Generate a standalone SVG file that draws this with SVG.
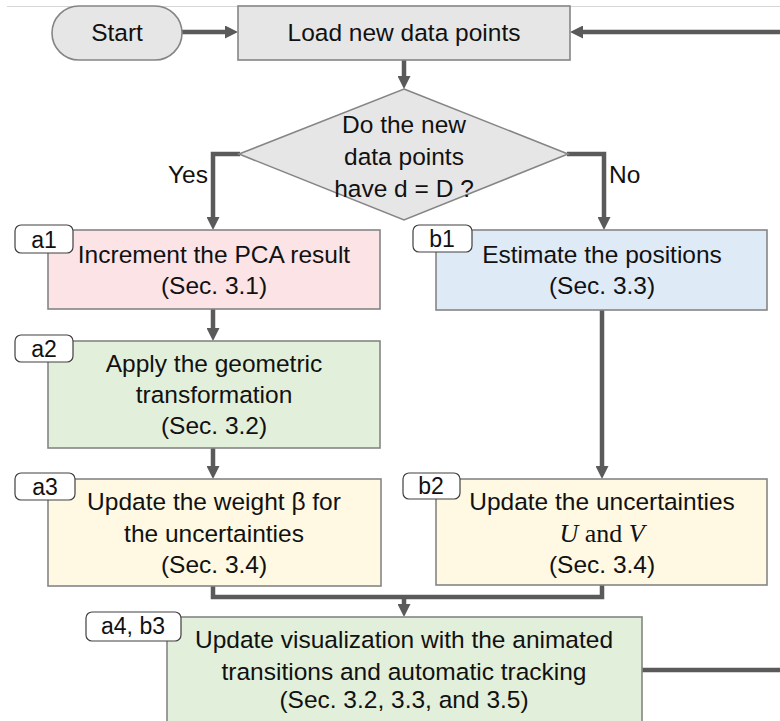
<svg xmlns="http://www.w3.org/2000/svg" width="780" height="721" viewBox="0 0 780 721">
<style>
.box{stroke:#858585;stroke-width:1.6}
.gray{fill:#e7e6e6}
.pink{fill:#fbe3e6}
.green{fill:#e2efda}
.blue{fill:#deebf7}
.yellow{fill:#fff9e3}
.lbl{fill:#ffffff;stroke:#404040;stroke-width:1.2}
text{font-family:"Liberation Sans",Arial,sans-serif;font-size:24.5px;fill:#111;text-anchor:middle}
.lt{font-size:23px}
.con{fill:none;stroke:#5a5a5a;stroke-width:4.5}
</style>
<defs>
<marker id="ah" markerUnits="userSpaceOnUse" markerWidth="13" markerHeight="13" refX="4" refY="6.5" orient="auto">
<path d="M0,0 L13,6.5 L0,13 z" fill="#5a5a5a"/>
</marker>
</defs>
<line x1="7" y1="6.5" x2="780" y2="6.5" stroke="#d6d6d6" stroke-width="1"/>
<g id="connectors">
<line class="con" x1="182" y1="32" x2="229" y2="32" marker-end="url(#ah)"/>
<line class="con" x1="780" y1="32" x2="579" y2="32" marker-end="url(#ah)"/>
<line class="con" x1="404" y1="60" x2="404" y2="80" marker-end="url(#ah)"/>
<polyline class="con" points="240,154 213,154 213,221" marker-end="url(#ah)"/>
<polyline class="con" points="567,154 604,154 604,221" marker-end="url(#ah)"/>
<line class="con" x1="213" y1="309" x2="213" y2="332" marker-end="url(#ah)"/>
<line class="con" x1="213" y1="448" x2="213" y2="470" marker-end="url(#ah)"/>
<line class="con" x1="602" y1="310" x2="602" y2="470" marker-end="url(#ah)"/>
<polyline class="con" points="213,586 213,597 602,597 602,585"/>
<line class="con" x1="404" y1="597" x2="404" y2="608" marker-end="url(#ah)"/>
<line class="con" x1="642" y1="670" x2="780" y2="670"/>
</g>
<g id="start">
<rect class="box gray" x="52" y="6" width="130" height="54" rx="27"/>
<text x="117" y="41">Start</text>
</g>
<g id="load">
<rect class="box gray" x="238" y="6" width="332" height="54"/>
<text x="404" y="41">Load new data points</text>
</g>
<g id="decision">
<polygon class="box gray" points="404,89 568,154 404,220 239,154"/>
<text x="404" y="133">Do the new</text>
<text x="404" y="165">data points</text>
<text x="404" y="197">have d = D ?</text>
</g>
<text x="208" y="183" style="text-anchor:end">Yes</text>
<text x="609" y="183" style="text-anchor:start">No</text>
<g id="a1">
<rect class="box pink" x="48" y="230" width="332" height="79"/>
<text x="214" y="263">Increment the PCA result</text>
<text x="214" y="294">(Sec. 3.1)</text>
<rect class="lbl" x="15" y="225" width="58" height="28" rx="6"/>
<text class="lt" x="44" y="248">a1</text>
</g>
<g id="b1">
<rect class="box blue" x="436" y="230" width="331" height="80"/>
<text x="602" y="263">Estimate the positions</text>
<text x="602" y="294">(Sec. 3.3)</text>
<rect class="lbl" x="413" y="225" width="59" height="27" rx="6"/>
<text class="lt" x="442" y="247">b1</text>
</g>
<g id="a2">
<rect class="box green" x="48" y="341" width="332" height="107"/>
<text x="214" y="372">Apply the geometric</text>
<text x="214" y="403">transformation</text>
<text x="214" y="434">(Sec. 3.2)</text>
<rect class="lbl" x="15" y="335" width="58" height="27" rx="6"/>
<text class="lt" x="44" y="357">a2</text>
</g>
<g id="a3">
<rect class="box yellow" x="48" y="479" width="333" height="107"/>
<text x="214" y="510">Update the weight β for</text>
<text x="214" y="542">the uncertainties</text>
<text x="214" y="573">(Sec. 3.4)</text>
<rect class="lbl" x="15" y="473" width="60" height="27" rx="6"/>
<text class="lt" x="45" y="495">a3</text>
</g>
<g id="b2">
<rect class="box yellow" x="436" y="479" width="331" height="106"/>
<text x="602" y="510">Update the uncertainties</text>
<text x="602" y="542" style="font-family:'Liberation Serif','Times New Roman',serif;font-size:26px"><tspan font-style="italic">U</tspan> and <tspan font-style="italic">V</tspan></text>
<text x="602" y="573">(Sec. 3.4)</text>
<rect class="lbl" x="403" y="473" width="57" height="26" rx="6"/>
<text class="lt" x="431" y="494">b2</text>
</g>
<g id="a4b3">
<rect class="box green" x="167" y="617" width="475" height="110"/>
<text x="404" y="648">Update visualization with the animated</text>
<text x="404" y="680">transitions and automatic tracking</text>
<text x="404" y="708">(Sec. 3.2, 3.3, and 3.5)</text>
<rect class="lbl" x="86" y="612" width="95" height="29" rx="6"/>
<text class="lt" x="133" y="634">a4, b3</text>
</g>
</svg>
